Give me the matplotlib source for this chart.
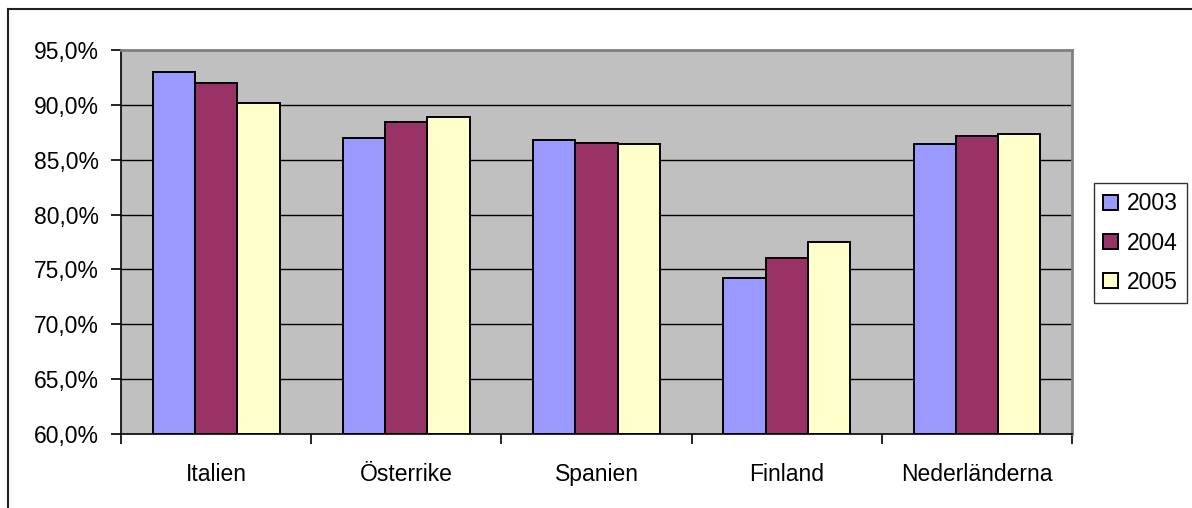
import matplotlib
matplotlib.use("Agg")
import matplotlib.pyplot as plt
from matplotlib.patches import Patch
from matplotlib.lines import Line2D
import numpy as np

categories = ["Italien", "Österrike", "Spanien", "Finland", "Nederländerna"]
years = ["2003", "2004", "2005"]
v2003 = [93.0, 87.0, 86.8, 74.2, 86.4]
v2004 = [92.0, 88.4, 86.5, 76.0, 87.2]
v2005 = [90.2, 88.9, 86.4, 77.5, 87.3]
series = [v2003, v2004, v2005]
colors = ["#9999FF", "#993366", "#FFFFCC"]
yticks = [60, 65, 70, 75, 80, 85, 90, 95]
ytick_labels = ["60,0%", "65,0%", "70,0%", "75,0%", "80,0%", "85,0%", "90,0%", "95,0%"]

plt.rcParams['font.family'] = ['Liberation Sans', 'DejaVu Sans']
FS = 16.5
W, H = 1192, 508
fig = plt.figure(figsize=(W / 100, H / 100), dpi=100)
fig.patch.set_facecolor("white")

# outer chart frame (top and left visible)
fig.add_artist(Line2D([8 / W, 8 / W], [0, 1 - 9 / H], transform=fig.transFigure,
                      color="#202020", lw=1.5))
fig.add_artist(Line2D([8 / W, 1], [1 - 9 / H, 1 - 9 / H], transform=fig.transFigure,
                      color="#202020", lw=1.5))

L, R, T, B = 121, 1072, 50, 434
ax = fig.add_axes([L / W, 1 - B / H, (R - L) / W, (B - T) / H])
ax.set_facecolor("#C0C0C0")

x = np.arange(len(categories))
bw = 1 / 4.5
for i, (vals, c, yr) in enumerate(zip(series, colors, years)):
    ax.bar(x + (i - 1) * bw, np.array(vals) - 60, bottom=60, width=bw, color=c,
           edgecolor="black", linewidth=1.4, label=yr, zorder=3)

ax.set_xlim(-0.5, len(categories) - 0.5)
ax.set_ylim(60, 95)
ax.set_yticks(yticks)
ax.set_yticklabels(ytick_labels, fontsize=FS)
for y in yticks[1:-1]:
    ax.axhline(y, color="black", lw=1.0, zorder=1)

ax.set_xticks(np.arange(len(categories) + 1) - 0.5)
ax.set_xticklabels([])
ax.set_xticks(x, minor=True)
ax.set_xticklabels(categories, minor=True, fontsize=FS)
ax.tick_params(axis="x", which="minor", length=0, pad=21)
ax.tick_params(axis="x", which="major", length=7, width=1.2, direction="out", color="black")
ax.tick_params(axis="y", length=7, width=1.2, direction="out", pad=9, color="black")

ax.spines["left"].set_color("black")
ax.spines["bottom"].set_color("black")
ax.spines["left"].set_linewidth(1.2)
ax.spines["bottom"].set_linewidth(1.2)
ax.spines["top"].set_color("#808080")
ax.spines["right"].set_color("#808080")
ax.spines["top"].set_linewidth(2)
ax.spines["right"].set_linewidth(2)

handles = [Patch(facecolor=c, edgecolor="black", linewidth=1.4) for c in colors]
leg = fig.legend(handles, years, loc="center left",
                 bbox_to_anchor=(1094 / W, 1 - 243 / H), fontsize=FS,
                 frameon=True, fancybox=False, edgecolor="black",
                 handlelength=0.65, handleheight=0.65, handletextpad=0.4,
                 labelspacing=0.7, borderpad=0.4, borderaxespad=0)
leg.get_frame().set_linewidth(1.0)

fig.savefig("out.png", dpi=100, facecolor="white")
